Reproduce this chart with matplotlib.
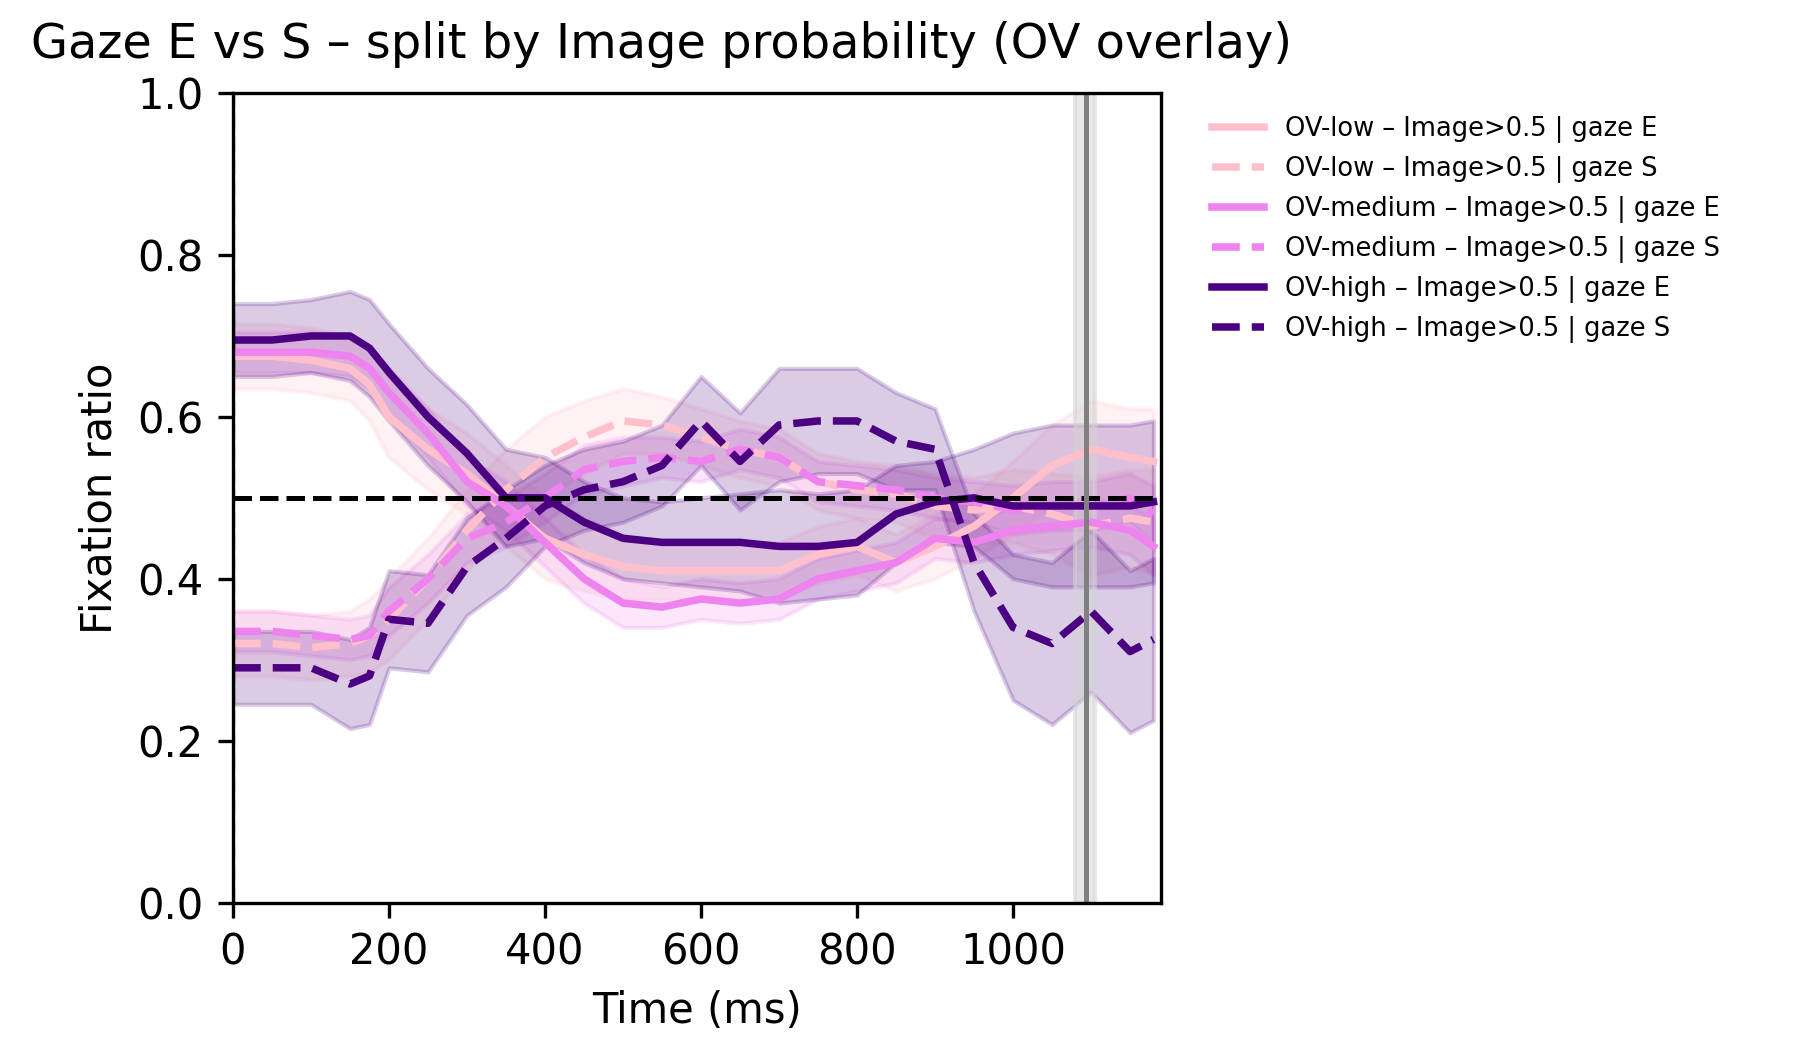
import numpy as np
import matplotlib
matplotlib.use('Agg')
import matplotlib.pyplot as plt

times = [0, 50, 100, 150, 175, 200, 250, 300, 350, 400, 450, 500, 550, 600, 650, 700,
         750, 800, 850, 900, 950, 1000, 1050, 1100, 1150, 1180]

low_e = [0.675, 0.675, 0.67, 0.66, 0.64, 0.60, 0.56, 0.53, 0.49, 0.45, 0.43, 0.415, 0.41, 0.41, 0.41, 0.41,
         0.43, 0.44, 0.42, 0.44, 0.465, 0.50, 0.54, 0.56, 0.55, 0.545]
low_s = [0.32, 0.32, 0.315, 0.32, 0.33, 0.35, 0.40, 0.46, 0.51, 0.55, 0.575, 0.595, 0.59, 0.575, 0.56, 0.55,
         0.52, 0.51, 0.505, 0.49, 0.485, 0.49, 0.48, 0.465, 0.475, 0.47]
low_sem = [0.04, 0.04, 0.04, 0.04, 0.045, 0.05, 0.05, 0.05, 0.05, 0.05, 0.045, 0.04, 0.035, 0.035, 0.035, 0.035,
           0.035, 0.035, 0.035, 0.04, 0.04, 0.045, 0.05, 0.06, 0.06, 0.065]

med_e = [0.68, 0.68, 0.68, 0.675, 0.66, 0.63, 0.58, 0.52, 0.49, 0.445, 0.40, 0.37, 0.365, 0.375, 0.37, 0.375,
         0.40, 0.41, 0.42, 0.45, 0.445, 0.46, 0.465, 0.47, 0.46, 0.44]
med_s = [0.335, 0.335, 0.33, 0.325, 0.33, 0.36, 0.40, 0.45, 0.47, 0.50, 0.535, 0.545, 0.55, 0.545, 0.56, 0.55,
         0.52, 0.515, 0.51, 0.50, 0.495, 0.485, 0.49, 0.49, 0.50, 0.48]
med_sem = [0.025, 0.025, 0.025, 0.025, 0.025, 0.03, 0.03, 0.03, 0.03, 0.03, 0.03, 0.03, 0.025, 0.025, 0.025, 0.025,
           0.025, 0.025, 0.025, 0.025, 0.025, 0.03, 0.03, 0.03, 0.03, 0.035]

high_e = [0.695, 0.695, 0.70, 0.70, 0.685, 0.655, 0.60, 0.555, 0.50, 0.50, 0.47, 0.45, 0.445, 0.445, 0.445, 0.44,
          0.44, 0.445, 0.48, 0.495, 0.50, 0.49, 0.49, 0.49, 0.49, 0.495]
high_s = [0.29, 0.29, 0.29, 0.27, 0.28, 0.35, 0.345, 0.415, 0.45, 0.49, 0.51, 0.52, 0.54, 0.595, 0.545, 0.59,
          0.595, 0.595, 0.57, 0.56, 0.42, 0.34, 0.32, 0.36, 0.31, 0.325]
high_sem = [0.045, 0.045, 0.045, 0.055, 0.06, 0.06, 0.06, 0.06, 0.06, 0.05, 0.05, 0.05, 0.05, 0.055, 0.06, 0.07,
            0.065, 0.065, 0.06, 0.05, 0.06, 0.09, 0.10, 0.10, 0.10, 0.10]

groups = [('OV-low', 'pink', low_e, low_s, low_sem),
          ('OV-medium', 'violet', med_e, med_s, med_sem),
          ('OV-high', 'indigo', high_e, high_s, high_sem)]

fig = plt.figure(figsize=(6.02, 3.49), dpi=300)
ax = fig.add_axes([0.129, 0.138, 0.514, 0.773])

t = np.array(times)
for name, col, ge, gs, sem in groups:
    ge, gs, sem = np.array(ge), np.array(gs), np.array(sem)
    ax.fill_between(t, ge - sem, ge + sem, color=col, alpha=0.2)
    ax.fill_between(t, gs - sem, gs + sem, color=col, alpha=0.2)
    ax.plot(t, ge, color=col, lw=1.8, label=f'{name} – Image>0.5 | gaze E')
    ax.plot(t, gs, color=col, lw=1.8, ls='--', label=f'{name} – Image>0.5 | gaze S')

ax.axhline(0.5, color='black', ls='--', lw=1.2)
ax.axvline(0, color='black', ls='--', lw=1)
ax.axvspan(1080, 1105, color='lightgray', alpha=0.5)
ax.axvline(1093, color='gray', lw=1.2)

ax.set_xlim(0, 1190)
ax.set_ylim(0, 1)
ax.set_xticks([0, 200, 400, 600, 800, 1000])
ax.set_xlabel('Time (ms)')
ax.set_ylabel('Fixation ratio')
fig.text(0.017, 0.935, 'Gaze E vs S – split by Image probability (OV overlay)', fontsize=11.5, va='bottom')
ax.legend(loc='upper left', bbox_to_anchor=(1.03, 1.0), frameon=False, fontsize=6.2)

fig.savefig('out.png', dpi=300)
